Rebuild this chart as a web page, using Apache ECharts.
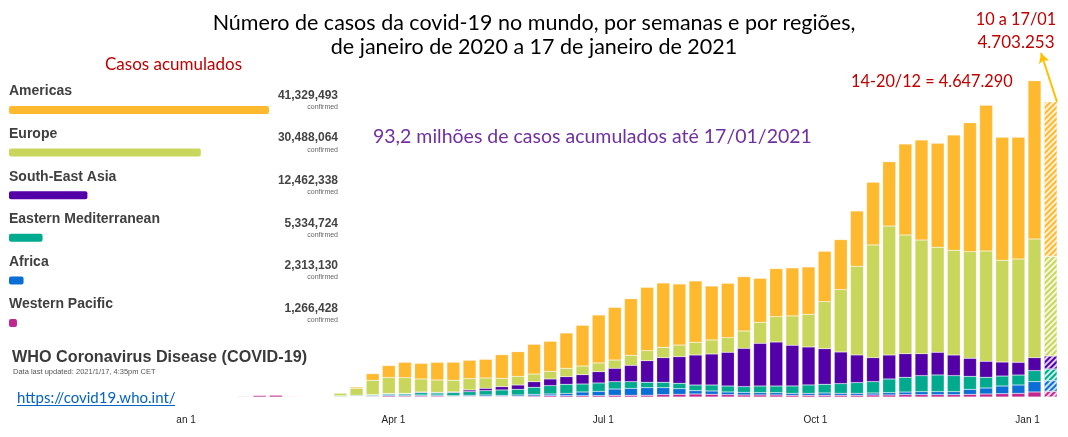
<!DOCTYPE html>
<html><head><meta charset="utf-8">
<script src="https://cdn.jsdelivr.net/npm/echarts@6/dist/echarts.min.js"></script>
<style>html,body{margin:0;padding:0;background:#fff}#c{width:1068px;height:437px}</style>
</head><body><div id="c"></div>
<script>
// ---- data ----
const weeks = ['2020-01-20','2020-01-27','2020-02-03','2020-02-10','2020-02-17','2020-02-24','2020-03-02','2020-03-09','2020-03-16','2020-03-23','2020-03-30','2020-04-06','2020-04-13','2020-04-20','2020-04-27','2020-05-04','2020-05-11','2020-05-18','2020-05-25','2020-06-01','2020-06-08','2020-06-15','2020-06-22','2020-06-29','2020-07-06','2020-07-13','2020-07-20','2020-07-27','2020-08-03','2020-08-10','2020-08-17','2020-08-24','2020-08-31','2020-09-07','2020-09-14','2020-09-21','2020-09-28','2020-10-05','2020-10-12','2020-10-19','2020-10-26','2020-11-02','2020-11-09','2020-11-16','2020-11-23','2020-11-30','2020-12-07','2020-12-14','2020-12-21','2020-12-28','2021-01-04','2021-01-11'];
const westernPacific = [2000,10000,24000,28000,9000,5000,4000,8000,9000,11000,18000,16000,16000,16000,11000,11000,11000,11000,11000,16000,21000,21000,21000,21000,27000,27000,27000,37000,42000,48000,42000,37000,32000,32000,32000,27000,27000,27000,27000,27000,32000,32000,37000,37000,37000,37000,42000,47800,53000,58000,80000,90300];
const africa = [0,0,0,0,0,0,0,0,3000,10000,16000,16000,16000,16000,11000,16000,21000,16000,21000,26000,27000,37000,59000,69000,100000,111000,122000,112000,91000,53000,54000,43000,42000,37000,37000,32000,32000,37000,32000,32000,32000,37000,42000,48000,48000,48000,80000,95600,122000,133000,165000,169900];
const easternMediterranean = [0,0,0,0,0,1000,6000,11000,14000,14000,18000,21000,37000,32000,48000,58000,69000,85000,90000,112000,133000,144000,127000,133000,117000,106000,85000,85000,85000,90000,95000,95000,91000,106000,106000,117000,133000,138000,154000,170000,181000,218000,234000,255000,266000,255000,207000,169900,159000,159000,175000,185900];
const southEastAsia = [0,0,0,0,0,0,0,0,1000,2000,3000,5000,11000,10000,11000,27000,37000,53000,69000,90000,106000,122000,149000,181000,213000,260000,345000,393000,425000,478000,494000,537000,610000,680000,701000,648000,605000,568000,504000,441000,382000,382000,377000,350000,361000,329000,287000,254900,223000,202000,207000,207100];
const europe = [0,0,0,0,0,1000,4000,42000,111000,229000,255000,250000,207000,197000,186000,181000,165000,132000,138000,122000,122000,133000,138000,138000,132000,160000,159000,164000,185000,202000,223000,233000,276000,334000,404000,467000,520000,749000,993000,1412000,1795000,2055000,1890000,1811000,1673000,1667000,1699000,1757600,1620000,1646000,1890000,1587700];
const americas = [0,0,0,0,0,0,0,3000,21000,106000,191000,244000,249000,281000,287000,292000,297000,377000,393000,473000,478000,563000,648000,764000,839000,902000,1009000,1025000,972000,977000,860000,866000,866000,701000,765000,765000,754000,802000,797000,881000,998000,1025000,1450000,1593000,1657000,1837000,2055000,2321490,1959000,1938000,2522000,2462353];

const regions = ['Americas','Europe','South-East Asia','Eastern Mediterranean','Africa','Western Pacific'];
const cumulative = [41329493, 30488064, 12462338, 5334724, 2313130, 1266428];
const tickDates = ['2020-01-01','2020-04-01','2020-07-01','2020-10-01','2021-01-01'];
const monthNames = ['Jan','Feb','Mar','Apr','May','Jun','Jul','Aug','Sep','Oct','Nov','Dec'];

// ---- styles ----
const colors = {
  'Americas':'#FFB92F','Europe':'#C8D65B','South-East Asia':'#5300A8',
  'Eastern Mediterranean':'#00AA8E','Africa':'#0B6ED6','Western Pacific':'#C2278F'
};
const ts = s => { const p = s.split('-'); return Date.UTC(+p[0], +p[1]-1, +p[2]); };
const xMin = Date.UTC(2019,11,1), xMax = Date.UTC(2021,0,18);
// the bar (time) axis widens itself by half a bar on each side; this end keeps both axes on the same scale
const barAxisMax = Date.UTC(2021,0,15,16,48);
const hatch = {symbol:'rect', symbolSize:1, color:'rgba(255,255,255,0.8)', dashArrayX:[1,0], dashArrayY:[2,2], rotation:-Math.PI/4};

const stacks = [
  ['Western Pacific', westernPacific],
  ['Africa', africa],
  ['Eastern Mediterranean', easternMediterranean],
  ['South-East Asia', southEastAsia],
  ['Europe', europe],
  ['Americas', americas]
];

const mainSeries = stacks.map(([name, vals]) => {
  const s = {
    type:'bar', name, stack:'total', xAxisIndex:0, yAxisIndex:0, barWidth:13,
    itemStyle:{color:colors[name], borderColor:'rgba(255,255,255,0.4)', borderWidth:0.5},
    data: vals.map((v,j) => {
      const val = [ts(weeks[j]), v === 0 ? null : v];
      return j === vals.length-1 ? {value:val, itemStyle:{decal:hatch}} : val;
    })
  };
  if (name === 'Americas') {
    s.markLine = {
      silent:true, symbol:['none','arrow'], symbolSize:[8,10], label:{show:false},
      lineStyle:{color:'#FFC000', width:2, type:'solid'},
      data:[[{x:1057, y:102}, {x:1041, y:53}]]
    };
  }
  return s;
});

const calibri = 'Lato, "Open Sans", sans-serif';
const arial = '"Liberation Sans", Arial, sans-serif';

const chart = echarts.init(document.getElementById('c'), null, {renderer:'canvas'});
chart.setOption({
  animation:false,
  backgroundColor:'#fff',
  title:{
    text:'Número de casos da covid-19 no mundo, por semanas e por regiões,\nde janeiro de 2020 a 17 de janeiro de 2021',
    left:'center', top:6,
    textStyle:{fontFamily:calibri, fontSize:21.5, fontWeight:'normal', color:'#000', lineHeight:24}
  },
  grid:[
    {left:105.6, right:0, top:51.7, bottom:40},
    {left:9, top:88.7, width:260, height:255.6},
    {left:112.1, right:1.2, top:51.7, bottom:40}
  ],
  xAxis:[
    {type:'time', gridIndex:0, min:xMin, max:barAxisMax, show:false},
    {type:'value', gridIndex:1, min:0, max:Math.max(...cumulative), show:false},
    {type:'value', gridIndex:2, min:xMin, max:xMax, position:'bottom',
     axisLine:{show:false}, axisTick:{show:false}, splitLine:{show:false},
     axisLabel:{customValues:tickDates.map(ts), margin:18, fontSize:10, fontFamily:arial, color:'#222',
       formatter: v => { const d = new Date(v); return monthNames[d.getUTCMonth()] + ' ' + d.getUTCDate(); }}}
  ],
  yAxis:[
    {type:'value', gridIndex:0, min:0, max:5500000, show:false},
    {type:'category', gridIndex:1, data:regions, inverse:true, position:'right',
     axisLine:{show:false}, axisTick:{show:false}, splitLine:{show:false},
     axisLabel:{margin:69, align:'right', padding:[0,0,20,0],
       formatter:(v, i) => '{v|' + cumulative[i].toLocaleString('en-US') + '}\n{c|confirmed}',
       rich:{
         v:{fontFamily:arial, fontWeight:'bold', fontSize:12, color:'#444', lineHeight:14, align:'right'},
         c:{fontFamily:arial, fontSize:7, color:'#666', lineHeight:9, align:'right'}
       }}},
    {type:'value', gridIndex:2, min:0, max:1, show:false}
  ],
  series: mainSeries.concat([{
    type:'bar', xAxisIndex:1, yAxisIndex:1, barWidth:8,
    itemStyle:{borderRadius:2},
    data: cumulative.map((v,i) => ({value:v, itemStyle:{color:colors[regions[i]]}})),
    label:{show:true, position:[0,-14.5], align:'left', verticalAlign:'middle', formatter:'{b}',
      fontFamily:arial, fontWeight:'bold', fontSize:14, color:'#404040'}
  }]),
  graphic:[
    {type:'rect', shape:{x:0, y:408, width:176, height:29}, style:{fill:'#fff'}, z:100},
    {type:'text', x:105, y:65, style:{text:'Casos acumulados', fill:'#C00000', font:'17px ' + calibri, textVerticalAlign:'middle'}},
    {type:'text', x:373, y:137, style:{text:'93,2 milhões de casos acumulados até 17/01/2021', fill:'#7030A0', font:'19.5px ' + calibri, textVerticalAlign:'middle'}},
    {type:'text', x:851, y:82, style:{text:'14-20/12 = 4.647.290', fill:'#C00000', font:'16.3px ' + calibri, textVerticalAlign:'middle'}},
    {type:'text', x:1016, y:20, style:{text:'10 a 17/01', fill:'#C00000', font:'16.3px ' + calibri, textAlign:'center', textVerticalAlign:'middle'}},
    {type:'text', x:1016, y:43, style:{text:'4.703.253', fill:'#C00000', font:'17px ' + calibri, textAlign:'center', textVerticalAlign:'middle'}},
    {type:'text', x:12, y:358, style:{text:'WHO Coronavirus Disease (COVID-19)', fill:'#3a3a3a', font:'bold 16.2px ' + arial, textVerticalAlign:'middle'}},
    {type:'text', x:13, y:372, style:{text:'Data last updated: 2021/1/17, 4:35pm CET', fill:'#555', font:'7.5px ' + arial, textVerticalAlign:'middle'}},
    {type:'text', x:17, y:398, style:{text:'https://covid19.who.int/', fill:'#0563C1', font:'15px ' + calibri, textVerticalAlign:'middle'}},
    {type:'line', shape:{x1:17, y1:405.5, x2:175, y2:405.5}, style:{stroke:'#0563C1', lineWidth:1}}
  ]
});
</script></body></html>
